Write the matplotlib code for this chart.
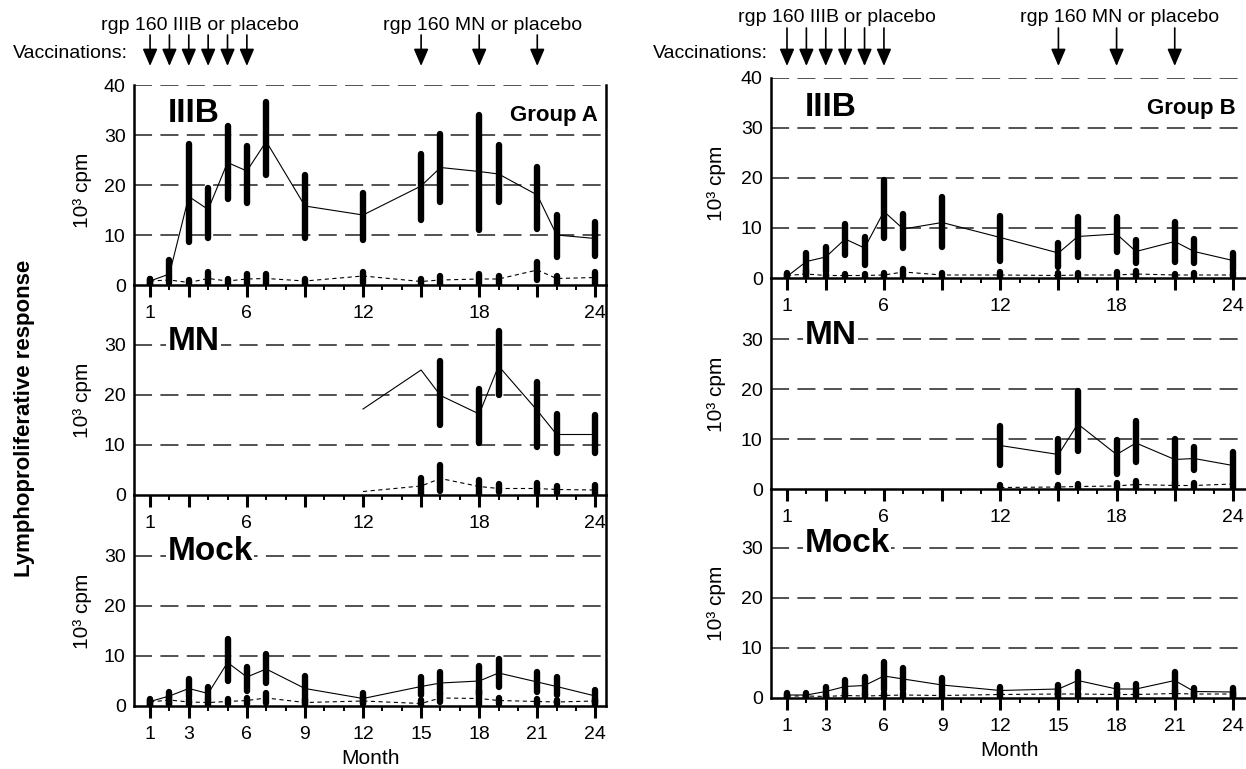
#!/usr/bin/env python3
"""Lymphoproliferative response to rgp160 IIIB / MN vaccination, groups A and B."""
import numpy as np
import matplotlib
matplotlib.use("Agg")
import matplotlib.pyplot as plt
from matplotlib import font_manager
from matplotlib.ticker import FixedLocator, MultipleLocator

nan = np.nan

MONTHS = [1, 2, 3, 4, 5, 6, 7, 9, 12, 15, 16, 18, 19, 21, 22, 24]
MN_MONTHS = [12, 15, 16, 18, 19, 21, 22, 24]
VACC_IIIB = [1, 2, 3, 4, 5, 6]
VACC_MN = [15, 18, 21]
MAJOR_TICKS = [1, 3, 6, 9, 12, 15, 18, 21, 24]
INNER_LABELS = ["1", "", "6", "", "12", "", "18", "", "24"]
BOTTOM_LABELS = ["1", "3", "6", "9", "12", "15", "18", "21", "24"]

# Group A - IIIB antigen
A_IIIB_VAC_MED = [0.8, 2.2, 17.7, 15.1, 24.5, 22.8, 28.7, 15.8, 14.0, 19.8, 23.5, 22.7, 22.2, 18.0, 10.0, 9.3]
A_IIIB_VAC_LO = [0.0, 1.7, 8.7, 9.5, 17.3, 16.5, 22.0, 9.5, 9.1, 13.0, 16.7, 11.1, 16.7, 11.3, 5.7, 5.8]
A_IIIB_VAC_HI = [1.3, 5.0, 28.2, 19.5, 31.8, 27.8, 36.7, 22.0, 18.5, 26.3, 30.3, 34.0, 28.0, 23.7, 14.0, 12.7]
A_IIIB_PLA_MED = [0.8, 1.0, 0.5, 1.3, 0.8, 1.2, 1.3, 0.8, 1.8, 0.7, 1.0, 1.2, 1.2, 3.0, 1.3, 1.5]
A_IIIB_PLA_LO = [0.0, 0.5, 0.0, 0.3, 0.0, 0.3, 0.3, 0.0, 0.5, 0.0, 0.2, 0.0, 0.0, 1.1, 0.2, 0.0]
A_IIIB_PLA_HI = [1.3, 1.7, 1.0, 2.7, 1.3, 2.2, 2.2, 1.3, 2.7, 1.3, 1.8, 2.2, 1.8, 4.7, 1.8, 2.7]

# Group A - MN antigen
A_MN_VAC_MED = [17.2, 25.0, 19.9, 16.2, 25.8, 16.9, 12.1, 12.1]
A_MN_VAC_LO = [nan, nan, 13.9, 10.3, 19.9, 9.6, 8.3, 8.3]
A_MN_VAC_HI = [nan, nan, 26.8, 21.2, 32.8, 22.5, 16.2, 15.9]
A_MN_PLA_MED = [0.7, 1.8, 3.3, 1.7, 1.3, 1.3, 1.1, 1.0]
A_MN_PLA_LO = [nan, 0.0, 0.7, 0.0, 0.5, 0.3, 0.3, 0.0]
A_MN_PLA_HI = [nan, 3.3, 6.0, 3.0, 2.2, 2.3, 1.7, 2.0]

# Group A - Mock
A_MOCK_VAC_MED = [0.9, 2.0, 3.5, 2.5, 8.7, 5.8, 7.4, 3.5, 1.5, 3.9, 4.6, 5.0, 6.6, 4.8, 3.9, 2.0]
A_MOCK_VAC_LO = [0.0, 0.2, 1.8, 1.2, 5.1, 3.0, 4.6, 0.7, 0.7, 2.2, 2.5, 2.2, 3.8, 2.8, 2.2, 0.7]
A_MOCK_VAC_HI = [1.5, 2.8, 5.5, 3.9, 13.4, 7.8, 10.5, 6.1, 2.6, 5.8, 6.8, 8.1, 9.4, 6.8, 5.8, 3.2]
A_MOCK_PLA_MED = [0.8, 1.2, 0.8, 0.7, 0.9, 1.1, 1.6, 0.7, 1.0, 0.5, 1.6, 1.5, 1.1, 0.9, 0.8, 1.0]
A_MOCK_PLA_LO = [0.0, 0.5, 0.0, 0.0, 0.4, 0.4, 0.7, 0.0, 0.5, 0.0, 0.9, 0.0, 0.5, 0.4, 0.4, 0.2]
A_MOCK_PLA_HI = [1.2, 2.0, 1.5, 1.5, 1.5, 1.7, 2.6, 1.5, 1.8, 1.2, 2.6, 3.2, 1.7, 1.5, 1.3, 1.5]

# Group B - IIIB antigen
B_IIIB_VAC_MED = [0.3, 3.3, 4.2, 7.8, 6.0, 13.3, 9.8, 11.1, 8.1, 5.0, 8.3, 8.8, 5.3, 7.3, 5.3, 3.5]
B_IIIB_VAC_LO = [0.0, 1.0, 1.3, 4.7, 2.7, 8.0, 6.0, 6.3, 3.5, 2.3, 4.3, 5.3, 3.0, 3.3, 3.0, 1.7]
B_IIIB_VAC_HI = [1.0, 5.0, 6.3, 10.9, 8.3, 19.7, 12.9, 16.2, 12.5, 7.0, 12.2, 12.2, 7.7, 11.3, 7.8, 5.0]
B_IIIB_PLA_MED = [0.5, 0.8, 0.5, 0.5, 0.5, 0.6, 1.2, 0.6, 0.6, 0.5, 0.6, 0.6, 0.8, 0.6, 0.6, 0.6]
B_IIIB_PLA_LO = [0.0, 0.0, 0.0, 0.1, 0.1, 0.1, 0.3, 0.0, 0.0, 0.0, 0.1, 0.0, 0.1, 0.0, 0.0, 0.3]
B_IIIB_PLA_HI = [0.8, 1.7, 0.9, 0.9, 0.9, 1.1, 1.8, 1.0, 1.3, 1.1, 1.1, 1.3, 1.5, 0.9, 1.1, 1.3]

# Group B - MN antigen
B_MN_VAC_MED = [8.7, 6.9, 13.0, 6.9, 9.2, 5.9, 6.1, 4.7]
B_MN_VAC_LO = [4.8, 3.4, 7.6, 3.1, 5.4, 1.1, 3.8, 1.8]
B_MN_VAC_HI = [12.7, 10.0, 19.6, 9.8, 13.7, 10.0, 8.5, 7.4]
B_MN_PLA_MED = [0.3, 0.4, 0.5, 0.6, 0.9, 0.7, 0.7, 1.0]
B_MN_PLA_LO = [0.0, 0.0, 0.0, 0.0, 0.3, 0.0, 0.0, 0.0]
B_MN_PLA_HI = [0.8, 0.8, 1.0, 1.2, 1.7, 1.4, 1.2, 1.9]

# Group B - Mock
B_MOCK_VAC_MED = [0.6, 0.6, 1.3, 2.3, 2.5, 4.4, 3.8, 2.6, 1.5, 1.8, 3.5, 1.8, 1.8, 3.5, 1.3, 1.2]
B_MOCK_VAC_LO = [0.0, 0.0, 0.0, 0.9, 0.7, 1.7, 1.7, 1.3, 0.7, 0.7, 1.7, 0.9, 0.9, 1.3, 0.5, 0.2]
B_MOCK_VAC_HI = [1.1, 1.0, 2.3, 3.6, 4.2, 7.3, 6.0, 4.0, 2.3, 2.6, 5.3, 2.6, 2.8, 5.3, 2.0, 2.0]
B_MOCK_PLA_MED = [0.4, 0.4, 0.3, 0.5, 0.4, 0.5, 0.6, 0.5, 0.7, 0.8, 0.8, 0.7, 0.7, 0.9, 0.8, 0.8]
B_MOCK_PLA_LO = [0.0, 0.0, 0.0, 0.0, 0.0, 0.0, 0.1, 0.0, 0.0, 0.0, 0.2, 0.0, 0.1, 0.0, 0.0, 0.0]
B_MOCK_PLA_HI = [0.9, 0.7, 0.9, 1.0, 0.9, 1.1, 1.1, 1.0, 1.3, 1.7, 1.1, 1.3, 1.1, 1.7, 1.3, 1.3]

names = {f.name for f in font_manager.fontManager.ttflist}
FAMILY = "Liberation Sans Narrow" if "Liberation Sans Narrow" in names else "Liberation Sans"
plt.rcParams["font.family"] = [FAMILY, "DejaVu Sans"]
plt.rcParams["lines.scale_dashes"] = False

W, H = 1246, 769
fig = plt.figure(figsize=(W / 100, H / 100), dpi=100)


def add_axes(left, right, top, bottom):
    # pixel box measured from the top-left corner of the figure
    ax = fig.add_axes([left / W, 1 - bottom / H, (right - left) / W, (bottom - top) / H])
    ax.patch.set_visible(False)
    return ax


def draw_panel(ax, months, vac, pla, label, label_y, xlim, ytop, yticks, xlabels, ylab_x):
    ax.set_xlim(*xlim)
    ax.set_ylim(0, ytop)
    for g in yticks[1:]:
        ax.axhline(g, color="#222222", lw=1.1, dashes=(13, 6), zorder=1)
    ax.spines["top"].set_visible(False)
    for s in ("left", "bottom", "right"):
        ax.spines[s].set_linewidth(1.8)
    ax.yaxis.set_major_locator(FixedLocator(yticks))
    ax.tick_params(axis="y", length=0, pad=6, labelsize=14)
    ax.xaxis.set_major_locator(FixedLocator(MAJOR_TICKS))
    ax.xaxis.set_minor_locator(MultipleLocator(1))
    ax.set_xticklabels(xlabels)
    ax.tick_params(axis="x", which="major", direction="out", length=8.5, width=2.2, pad=6, labelsize=14)
    ax.tick_params(axis="x", which="minor", direction="out", length=3.5, width=1.4)

    med, lo, hi = vac
    ax.plot(months, med, color="k", lw=0.8, zorder=3)
    ax.vlines(months, lo, hi, color="k", lw=4.6, capstyle="round", zorder=4)
    med, lo, hi = pla
    ax.plot(months, med, color="k", lw=0.8, dashes=(3, 2.5), zorder=3)
    ax.vlines(months, lo, hi, color="k", lw=4.6, capstyle="round", zorder=4)

    ax.text(1.9, label_y, label, fontsize=24, fontweight="bold", va="center", ha="left", zorder=5,
            bbox=dict(facecolor="white", edgecolor="none", pad=1))
    ax.set_ylabel("10³ cpm", fontsize=15)
    ax.yaxis.set_label_coords(ylab_x, 19 / ytop)


def draw_group(left, right, xlim, tops, header_y, arrow_top, group, vacc_right, ylab_x, data):
    (t1, b1), (t2, b2), (t3, b3) = tops
    ax1 = add_axes(left, right, t1, b1)
    ax2 = add_axes(left, right, t2, b2)
    ax3 = add_axes(left, right, t3, b3)
    scale = (b1 - t1) / 40
    ytop2 = (b2 - t2) / scale
    ytop3 = (b3 - t3) / scale
    draw_panel(ax1, MONTHS, data[0], data[1], "IIIB", 34.2, xlim, 40, [0, 10, 20, 30, 40],
               INNER_LABELS, ylab_x)
    draw_panel(ax2, MN_MONTHS, data[2], data[3], "MN", 30.6, xlim, ytop2, [0, 10, 20, 30],
               INNER_LABELS, ylab_x)
    draw_panel(ax3, MONTHS, data[4], data[5], "Mock", 30.8, xlim, ytop3, [0, 10, 20, 30],
               BOTTOM_LABELS, ylab_x)
    ax1.text(24.15, 33.9, group, fontsize=16, fontweight="bold", ha="right", va="center")
    ax3.set_xlabel("Month", fontsize=15, labelpad=4)

    # vaccination arrows and header (pixel rows from the top)
    for m in VACC_IIIB + VACC_MN:
        ax1.annotate("", xy=(m, H - 66), xycoords=("data", "figure pixels"),
                     xytext=(m, H - arrow_top), textcoords=("data", "figure pixels"),
                     arrowprops=dict(arrowstyle="-|>,head_width=0.28,head_length=0.65",
                                     color="k", lw=1.2, shrinkA=0, shrinkB=0,
                                     mutation_scale=16))
    ax1.annotate("rgp 160 IIIB or placebo", xy=(3.6, H - header_y), xycoords=("data", "figure pixels"),
                 ha="center", va="center", fontsize=14, annotation_clip=False)
    ax1.annotate("rgp 160 MN or placebo", xy=(18.15, H - header_y), xycoords=("data", "figure pixels"),
                 ha="center", va="center", fontsize=14, annotation_clip=False)
    fig.text(vacc_right / W, 1 - 53 / H, "Vaccinations:", ha="right", va="center", fontsize=14)


draw_group(134, 606, (0.17, 24.55), [(85, 285), (285, 495), (495, 706)], 25, 35, "Group A", 128,
           -0.088,
           [(A_IIIB_VAC_MED, A_IIIB_VAC_LO, A_IIIB_VAC_HI),
            (A_IIIB_PLA_MED, A_IIIB_PLA_LO, A_IIIB_PLA_HI),
            (A_MN_VAC_MED, A_MN_VAC_LO, A_MN_VAC_HI),
            (A_MN_PLA_MED, A_MN_PLA_LO, A_MN_PLA_HI),
            (A_MOCK_VAC_MED, A_MOCK_VAC_LO, A_MOCK_VAC_HI),
            (A_MOCK_PLA_MED, A_MOCK_PLA_LO, A_MOCK_PLA_HI)])

draw_group(771, 1249, (0.175, 24.83), [(78, 278), (278, 489), (489, 698)], 18, 28, "Group B", 768,
           -0.095,
           [(B_IIIB_VAC_MED, B_IIIB_VAC_LO, B_IIIB_VAC_HI),
            (B_IIIB_PLA_MED, B_IIIB_PLA_LO, B_IIIB_PLA_HI),
            (B_MN_VAC_MED, B_MN_VAC_LO, B_MN_VAC_HI),
            (B_MN_PLA_MED, B_MN_PLA_LO, B_MN_PLA_HI),
            (B_MOCK_VAC_MED, B_MOCK_VAC_LO, B_MOCK_VAC_HI),
            (B_MOCK_PLA_MED, B_MOCK_PLA_LO, B_MOCK_PLA_HI)])

fig.text(25 / W, 1 - 418 / H, "Lymphoproliferative response", rotation=90, ha="center",
         va="center", fontsize=16, fontweight="bold")

fig.savefig("out.png", dpi=100)
